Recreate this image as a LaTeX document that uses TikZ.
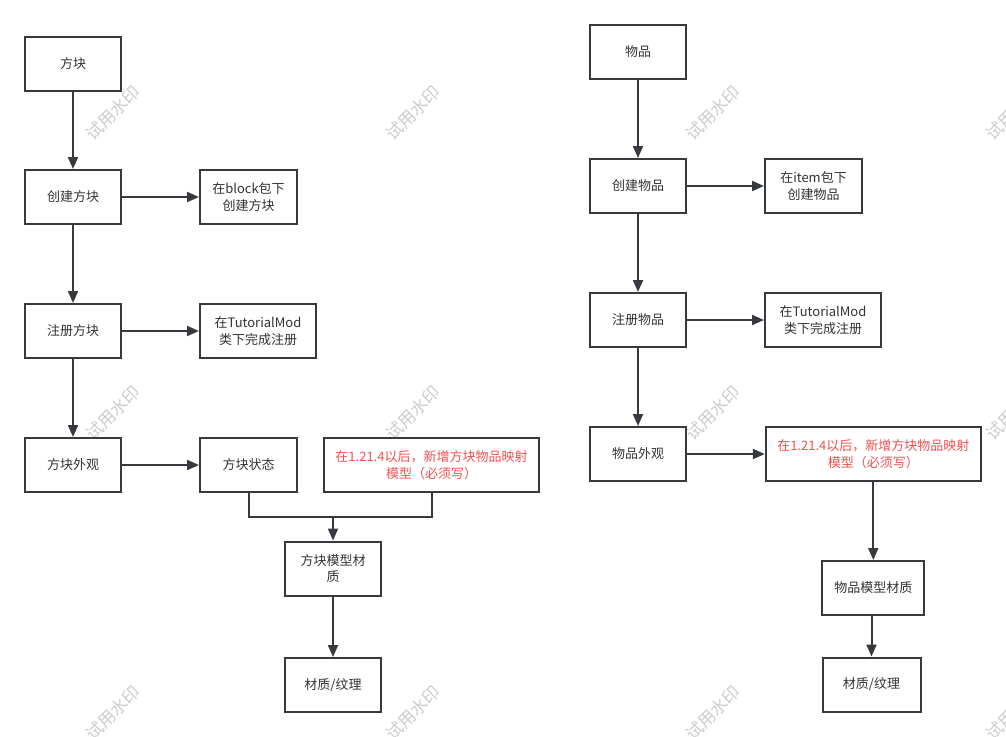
\documentclass[tikz,border=0pt]{standalone}
\usepackage{fontspec}
\setmainfont{Noto Sans CJK SC}
\usetikzlibrary{arrows.meta}
\definecolor{ink}{HTML}{333333}
\definecolor{edge}{HTML}{36393D}
\definecolor{redtxt}{RGB}{245,80,80}
\definecolor{wm}{RGB}{205,205,205}
\tikzset{
  box/.style={draw=edge, line width=2pt, fill=white, rectangle, inner sep=1pt,
    minimum width=96pt, minimum height=54pt, align=center, text=ink,
    font=\fontsize{13}{16.5}\selectfont},
  redbox/.style={box, text=redtxt, minimum width=215pt},
  arr/.style={draw=edge, line width=2pt, -{Triangle[length=12pt,width=10pt]}},
  ln/.style={draw=edge, line width=2pt},
  wmark/.style={text=wm, rotate=45, font=\fontsize{17}{20}\selectfont, inner sep=0pt}
}
\begin{document}
\begin{tikzpicture}[x=1pt,y=-1pt]
\useasboundingbox[fill=white] (0,0) rectangle (1006,736);
% watermarks
\foreach \wx/\wy/\wn in {113/113/a,413/113/b,713/113/c,1013/113/d,113/413/e,413/413/f,713/413/g,1013/413/h,113/713/i,413/713/j,713/713/k,1013/713/l}
  \node[wmark] (wm\wn) at (\wx,\wy) {试用水印};
% left column
\node[box] (L1) at (73,63.5) {方块};
\node[box] (L2) at (73,197) {创建方块};
\node[box, minimum width=97pt] (L2r) at (248.5,197) {在block包下\\创建方块};
\node[box] (L3) at (73,331) {注册方块};
\node[box, minimum width=116pt] (L3r) at (258,331) {在TutorialMod\\类下完成注册};
\node[box] (L4) at (73,465) {方块外观};
\node[box, minimum width=97pt] (L4r) at (248.5,465) {方块状态};
\node[redbox] (L4red) at (431.5,465) {在1.21.4以后，新增方块物品映射\\模型（必须写）};
\node[box] (L5) at (333,568.5) {方块模型材\\质};
\node[box] (L6) at (333,685) {材质/纹理};
\draw[arr] (L1) -- (L2);
\draw[arr] (L2) -- (L2r);
\draw[arr] (L2) -- (L3);
\draw[arr] (L3) -- (L3r);
\draw[arr] (L3) -- (L4);
\draw[arr] (L4) -- (L4r);
\coordinate (J) at (333,517);
\draw[ln] (L4r.south) -- (L4r.south |- J) -- (L4red.south |- J) -- (L4red.south);
\draw[arr] (J) -- (L5.north);
\draw[arr] (L5) -- (L6);
% right column
\node[box] (R1) at (638,51.5) {物品};
\node[box] (R2) at (638,186) {创建物品};
\node[box, minimum width=97pt] (R2r) at (813.5,186) {在item包下\\创建物品};
\node[box] (R3) at (638,320) {注册物品};
\node[box, minimum width=116pt] (R3r) at (823,320) {在TutorialMod\\类下完成注册};
\node[box] (R4) at (638,454) {物品外观};
\node[redbox] (R4red) at (873.3,454) {在1.21.4以后，新增方块物品映射\\模型（必须写）};
\node[box, minimum width=102pt] (R5) at (873.3,588) {物品模型材质};
\node[box, minimum width=98pt] (R6) at (871.5,684.5) {材质/纹理};
\draw[arr] (R1) -- (R2);
\draw[arr] (R2) -- (R2r);
\draw[arr] (R2) -- (R3);
\draw[arr] (R3) -- (R3r);
\draw[arr] (R3) -- (R4);
\draw[arr] (R4) -- (R4red);
\draw[arr] (R4red) -- (R5);
\draw[arr] (R5.south -| R6.north) -- (R6.north);
\end{tikzpicture}
\end{document}
